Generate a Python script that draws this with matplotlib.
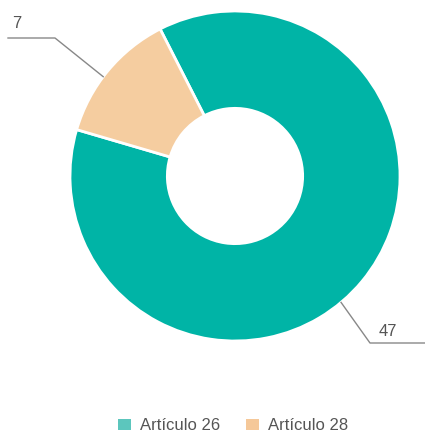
import numpy as np
import matplotlib.pyplot as plt
from matplotlib.patches import Patch

plt.rcParams['font.family'] = ['Liberation Sans', 'DejaVu Sans']

labels = ['Artículo 26', 'Artículo 28']
values = [47, 7]
colors = ['#00b4a6', '#f5cda0']
legend_colors = ['#5cc6bd', '#f5c899']

fig = plt.figure(figsize=(4.25, 4.34), dpi=100)
ax = fig.add_axes([0, 0, 1, 1])

# pixel-like coordinates, origin bottom-left
cx, cy, r = 235, 258, 165
wedges, _ = ax.pie(values, colors=colors, center=(cx, cy), radius=r,
                   startangle=117, counterclock=False, frame=True,
                   wedgeprops=dict(width=r * 0.59, edgecolor='white', linewidth=2))
ax.set_xlim(0, 425)
ax.set_ylim(0, 434)
ax.set_aspect('equal')
ax.axis('off')

# leader lines + value labels
line_kw = dict(color='#888888', lw=1)
# (anchor angle, elbow, line end, text pos)
label_specs = [
    (-50, (370, 91), (425, 91), (379, 103)),
    (143, (55, 396), (8, 396), (12, 410)),
]
for v, (ang, elbow, end, tpos) in zip(values, label_specs):
    a = np.deg2rad(ang)
    p = (cx + r * np.cos(a), cy + r * np.sin(a))
    ax.plot([p[0], elbow[0], end[0]], [p[1], elbow[1], end[1]], **line_kw)
    ax.text(tpos[0], tpos[1], str(v), fontsize=12, color='#555555',
            ha='left', va='center')

handles = [Patch(facecolor=c, edgecolor='none') for c in legend_colors]
fig.legend(handles, labels, loc='center', bbox_to_anchor=(233 / 425, 8 / 434),
           ncol=2, frameon=False, fontsize=12, handlelength=0.8,
           handleheight=0.6, handletextpad=0.55, columnspacing=1.5,
           borderpad=0, labelcolor='#555555')

fig.savefig('out.png', dpi=100)
